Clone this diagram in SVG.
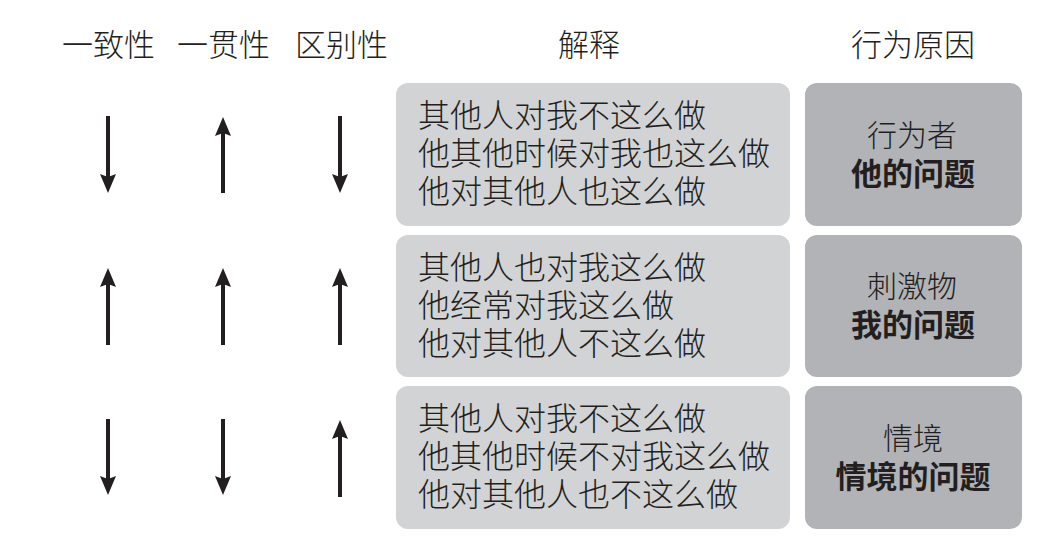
<svg xmlns="http://www.w3.org/2000/svg" width="1063" height="541" viewBox="0 0 1063 541">
<defs>
<marker id="ah" markerUnits="userSpaceOnUse" markerWidth="20" markerHeight="16" refX="9" refY="8" orient="auto">
<path d="M0,0 L19,8 L0,16 L3,8 z" fill="#231f20"/>
</marker>
</defs>
<style>
text{font-family:"Noto Sans CJK SC","Noto Sans",sans-serif;fill:#231f20;font-weight:300;}
.hd{font-size:31px;}
.ex{font-size:32px;}
.c1{font-size:30px;text-anchor:middle;}
.c2{font-size:31px;font-weight:bold;text-anchor:middle;}
.lb{fill:#d1d3d4;}
.rb{fill:#b1b3b6;}
.ar{stroke:#231f20;stroke-width:4;fill:none;marker-end:url(#ah);}
</style>
<rect width="1063" height="541" fill="#ffffff"/>
<g id="headers">
<text class="hd" x="62" y="56">一致性</text>
<text class="hd" x="177" y="56">一贯性</text>
<text class="hd" x="295" y="56">区别性</text>
<text class="hd" x="589" y="56" text-anchor="middle">解释</text>
<text class="hd" x="913" y="56" text-anchor="middle">行为原因</text>
</g>
<g id="row1">
<rect class="lb" x="396" y="83" width="394" height="143" rx="12"/>
<text class="ex" x="418" y="127">其他人对我不这么做</text>
<text class="ex" x="418" y="165">他其他时候对我也这么做</text>
<text class="ex" x="418" y="203">他对其他人也这么做</text>
<rect class="rb" x="805" y="83" width="217" height="143" rx="12"/>
<text class="c1" x="912" y="146">行为者</text>
<text class="c2" x="913" y="185">他的问题</text>
</g>
<g id="row2">
<rect class="lb" x="396" y="235" width="394" height="142" rx="12"/>
<text class="ex" x="418" y="279">其他人也对我这么做</text>
<text class="ex" x="418" y="317">他经常对我这么做</text>
<text class="ex" x="418" y="355">他对其他人不这么做</text>
<rect class="rb" x="805" y="235" width="217" height="142" rx="12"/>
<text class="c1" x="912" y="297">刺激物</text>
<text class="c2" x="913" y="336">我的问题</text>
</g>
<g id="row3">
<rect class="lb" x="396" y="386" width="394" height="143" rx="12"/>
<text class="ex" x="418" y="430">其他人对我不这么做</text>
<text class="ex" x="418" y="468">他其他时候不对我这么做</text>
<text class="ex" x="418" y="506">他对其他人也不这么做</text>
<rect class="rb" x="805" y="386" width="217" height="143" rx="12"/>
<text class="c1" x="913" y="449">情境</text>
<text class="c2" x="913" y="488">情境的问题</text>
</g>
<g id="connectors">
<line class="ar" x1="108" y1="116" x2="108" y2="183"/>
<line class="ar" x1="223" y1="193" x2="223" y2="127"/>
<line class="ar" x1="340" y1="116" x2="340" y2="183"/>
<line class="ar" x1="108" y1="345" x2="108" y2="278"/>
<line class="ar" x1="223" y1="345" x2="223" y2="278"/>
<line class="ar" x1="340" y1="345" x2="340" y2="278"/>
<line class="ar" x1="108" y1="419" x2="108" y2="485"/>
<line class="ar" x1="223" y1="419" x2="223" y2="485"/>
<line class="ar" x1="340" y1="497" x2="340" y2="430"/>
</g>
</svg>
